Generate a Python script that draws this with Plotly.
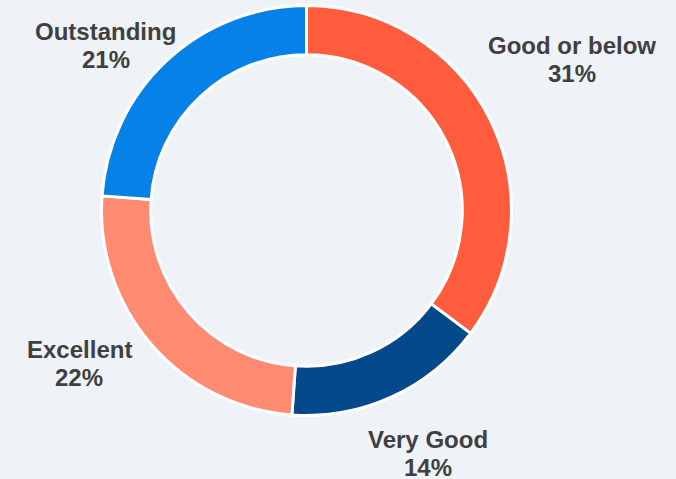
import plotly.graph_objects as go

categories = ["Good or below", "Very Good", "Excellent", "Outstanding"]
values = [31, 14, 22, 21]
colors = ["#ff5c3d", "#04498c", "#ff8a72", "#0681e8"]

W, H = 676, 479
# label block centres (pixels) for each category: (x, y of first line)
label_pos = [(572, 45), (428, 439), (79, 349), (105.5, 31.5)]
LINE_GAP = 28

fig = go.Figure(go.Pie(
    labels=categories,
    values=values,
    textinfo="none",
    hole=0.76,
    sort=False,
    direction="clockwise",
    rotation=0,
    marker=dict(colors=colors, line=dict(color="white", width=3)),
    domain=dict(x=[0.1502, 0.7566], y=[0.1326, 0.9885]),
    showlegend=False,
))

font = dict(family="Arial, Liberation Sans, sans-serif", size=24, color="#404040", weight="bold")
for cat, val, (px, py) in zip(categories, values, label_pos):
    for i, txt in enumerate([cat, f"{val}%"]):
        fig.add_annotation(
            x=px / W, y=1 - (py + i * LINE_GAP) / H,
            xref="paper", yref="paper",
            text=f"<b>{txt}</b>", showarrow=False,
            xanchor="center", yanchor="middle",
            font=font,
        )

fig.update_layout(
    width=W, height=H,
    margin=dict(l=0, r=0, t=0, b=0),
    paper_bgcolor="#eff2f7",
    plot_bgcolor="#eff2f7",
    showlegend=False,
)

fig.write_html("out.html")
